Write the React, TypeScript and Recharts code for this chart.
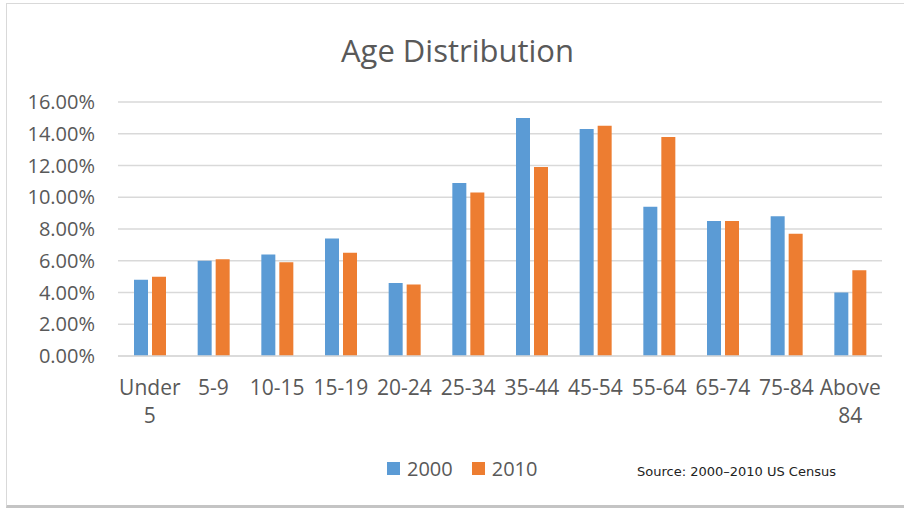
import React from 'react';
import { BarChart, Bar, XAxis, YAxis, CartesianGrid, Legend } from 'recharts';

const categories = ['Under 5', '5-9', '10-15', '15-19', '20-24', '25-34', '35-44', '45-54', '55-64', '65-74', '75-84', 'Above 84'];
const values2000 = [4.8, 6.0, 6.4, 7.4, 4.6, 10.9, 15.0, 14.3, 9.4, 8.5, 8.8, 4.0];
const values2010 = [5.0, 6.1, 5.9, 6.5, 4.5, 10.3, 11.9, 14.5, 13.8, 8.5, 7.7, 5.4];
const yTicks = [0, 2, 4, 6, 8, 10, 12, 14, 16];
const seriesNames = ['2000', '2010'];
const seriesColors = ['#5B9BD5', '#ED7D31'];
const titleText = 'Age Distribution';
const sourceText = 'Source: 2000\u20132010 US Census';

const data = categories.map((c, i) => ({ name: c, y2000: values2000[i], y2010: values2010[i] }));

const FONT = '"Open Sans", sans-serif';
const TEXT = '#595959';

const XTick = (props: any) => {
  const { x, y, payload } = props;
  const lines = String(payload.value).split(' ');
  return (
    <g>
      {lines.map((l, i) => (
        <text key={i} x={x} y={y + 39 + i * 28} textAnchor="middle" fill={TEXT} fontSize={21} fontFamily={FONT}>
          {l}
        </text>
      ))}
    </g>
  );
};

const LegendContent = (props: any) => {
  const payload = props.payload || [];
  return (
    <div style={{ display: 'flex', alignItems: 'center', fontFamily: FONT, fontSize: 20, color: TEXT, lineHeight: '27px' }}>
      {payload.map((p: any, i: number) => (
        <div key={i} style={{ display: 'flex', alignItems: 'center', marginRight: 19 }}>
          <span style={{ display: 'inline-block', width: 13, height: 13, background: p.color, marginRight: 7 }} />
          <span>{p.value}</span>
        </div>
      ))}
    </div>
  );
};

export default function App() {
  return (
    <div style={{ position: 'absolute', left: 0, top: 0, width: 904, height: 511, background: '#fff', overflow: 'hidden' }}>
      <div
        style={{
          position: 'absolute',
          left: 6,
          top: 3,
          width: 920,
          height: 501,
          borderLeft: '1.5px solid #d9d9d9',
          borderTop: '1.5px solid #d9d9d9',
          borderBottom: '3px solid #c4c4c4',
        }}
      />
      <div style={{ position: 'absolute', left: 0, top: 0 }}>
        <BarChart width={904} height={511} data={data} margin={{ top: 102, right: 22, bottom: 95, left: 0 }} barSize={14} barGap={4}>
          <CartesianGrid vertical={false} stroke="#d9d9d9" strokeWidth={1.3} />
          <XAxis
            dataKey="name"
            height={60}
            tickLine={false}
            tickSize={0}
            tickMargin={0}
            axisLine={{ stroke: '#d9d9d9', strokeWidth: 1.5 }}
            tick={<XTick />}
            interval={0}
          />
          <YAxis
            width={118}
            domain={[0, 16]}
            ticks={yTicks}
            axisLine={false}
            tickLine={false}
            tickSize={0}
            tickMargin={23}
            tickFormatter={(v: number) => `${v.toFixed(2)}%`}
            tick={{ fill: TEXT, fontSize: 20, fontFamily: FONT }}
          />
          <Legend
            layout="horizontal"
            verticalAlign="middle"
            align="center"
            content={<LegendContent />}
            wrapperStyle={{ position: 'absolute', left: 387, top: 455, width: 200, height: 27 }}
          />
          <Bar dataKey="y2000" name={seriesNames[0]} fill={seriesColors[0]} isAnimationActive={false} />
          <Bar dataKey="y2010" name={seriesNames[1]} fill={seriesColors[1]} isAnimationActive={false} />
        </BarChart>
      </div>
      <svg width={904} height={511} style={{ position: 'absolute', left: 0, top: 0, pointerEvents: 'none' }}>
        <text x={457.5} y={61.5} textAnchor="middle" fill={TEXT} fontSize={31} fontFamily={FONT}>
          {titleText}
        </text>
        <text x={637} y={476} fill="#222" fontSize={13} fontFamily='"DejaVu Sans", sans-serif'>
          {sourceText}
        </text>
      </svg>
    </div>
  );
}
